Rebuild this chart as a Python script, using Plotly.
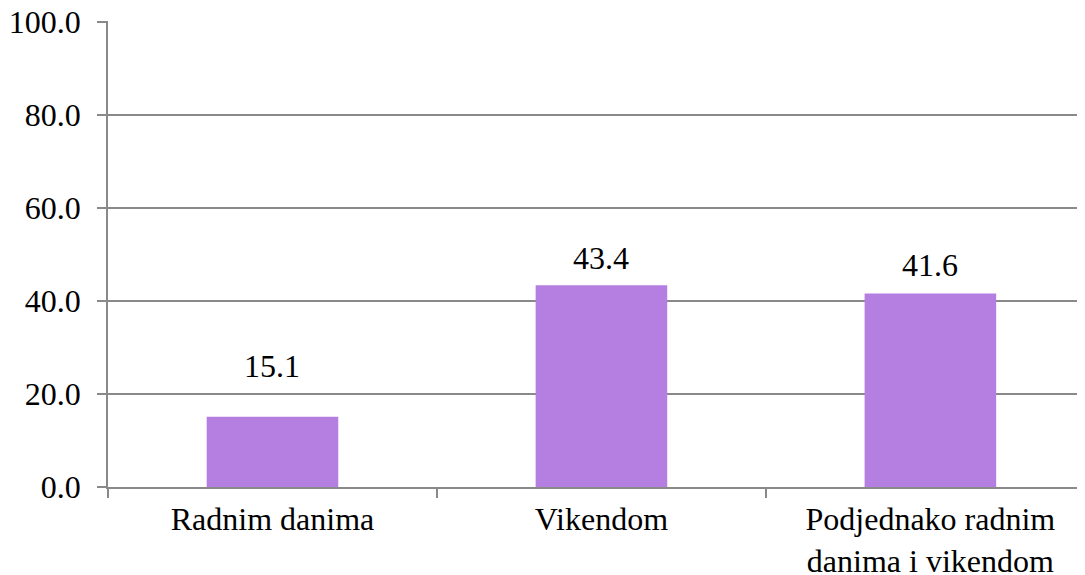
import plotly.graph_objects as go

categories = ['Radnim danima', 'Vikendom', 'Podjednako radnim<br>danima i vikendom']
values = [15.1, 43.4, 41.6]
labels = ['15.1', '43.4', '41.6']

# label offsets above bar top (px), the first one sits higher in the original
label_shift = [51, 27, 29]

font = dict(family='Liberation Serif', size=32, color='black')
grey = '#898989'

fig = go.Figure()
fig.add_trace(go.Bar(x=categories, y=values, width=0.4,
                     marker=dict(color='#B57FE1', line=dict(width=0))))

for c, v, t, s in zip(categories, values, labels, label_shift):
    fig.add_annotation(x=c, y=v, text=t, showarrow=False,
                       yanchor='middle', yshift=s, font=font)

# page body has an 8px margin, so the figure is shrunk by that much
fig.update_layout(template='none',
                  width=1077, height=567,
                  margin=dict(l=100, r=0, t=13, b=88),
                  font=font,
                  showlegend=False,
                  plot_bgcolor='white', paper_bgcolor='white')
fig.update_xaxes(range=[-0.5, 2.47], showgrid=False, showline=True, linecolor=grey, linewidth=1.5,
                 ticks='outside', tickson='boundaries', ticklen=9, tickcolor=grey, tickwidth=1.5,
                 ticklabelstandoff=3, ticklabeloverflow='allow', tickfont=font)
fig.update_yaxes(range=[0, 100.2], dtick=20, tickformat='.1f', showgrid=True, gridcolor=grey, gridwidth=1.5,
                 zeroline=False, showline=True, linecolor=grey, linewidth=1.5,
                 ticks='outside', ticklen=9, tickcolor=grey, tickwidth=1.5,
                 ticklabelstandoff=10, ticklabeloverflow='allow', tickfont=font)

fig.write_html('out.html')
